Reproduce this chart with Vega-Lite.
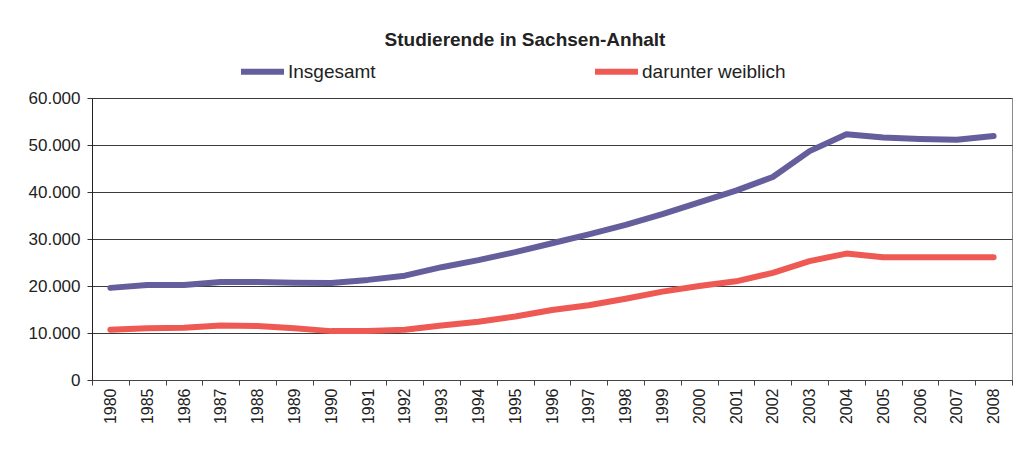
{
  "$schema": "https://vega.github.io/schema/vega-lite/v6.json",
  "width": 920,
  "height": 282,
  "autosize": {"type": "none"},
  "padding": {"left": 92, "top": 98, "right": 18, "bottom": 78},
  "background": "white",
  "title": {
    "text": "Studierende in Sachsen-Anhalt",
    "anchor": "middle",
    "frame": "group",
    "dx": -27,
    "offset": -18,
    "baseline": "alphabetic",
    "font": "Liberation Sans",
    "fontSize": 19,
    "fontWeight": "bold",
    "color": "#222222"
  },
  "config": {
    "locale": {"number": {"decimal": ",", "thousands": ".", "grouping": [3], "currency": ["", " €"]}},
    "view": {"stroke": "#8a8a8a", "strokeWidth": 1},
    "font": "Liberation Sans"
  },
  "data": {
    "values": [
      {"jahr": "1980", "reihe": "Insgesamt", "wert": 19600},
      {"jahr": "1985", "reihe": "Insgesamt", "wert": 20200},
      {"jahr": "1986", "reihe": "Insgesamt", "wert": 20200},
      {"jahr": "1987", "reihe": "Insgesamt", "wert": 20850},
      {"jahr": "1988", "reihe": "Insgesamt", "wert": 20850},
      {"jahr": "1989", "reihe": "Insgesamt", "wert": 20700},
      {"jahr": "1990", "reihe": "Insgesamt", "wert": 20650},
      {"jahr": "1991", "reihe": "Insgesamt", "wert": 21300},
      {"jahr": "1992", "reihe": "Insgesamt", "wert": 22200},
      {"jahr": "1993", "reihe": "Insgesamt", "wert": 24000},
      {"jahr": "1994", "reihe": "Insgesamt", "wert": 25500},
      {"jahr": "1995", "reihe": "Insgesamt", "wert": 27200},
      {"jahr": "1996", "reihe": "Insgesamt", "wert": 29100},
      {"jahr": "1997", "reihe": "Insgesamt", "wert": 31000},
      {"jahr": "1998", "reihe": "Insgesamt", "wert": 33000},
      {"jahr": "1999", "reihe": "Insgesamt", "wert": 35300},
      {"jahr": "2000", "reihe": "Insgesamt", "wert": 37800},
      {"jahr": "2001", "reihe": "Insgesamt", "wert": 40300},
      {"jahr": "2002", "reihe": "Insgesamt", "wert": 43200},
      {"jahr": "2003", "reihe": "Insgesamt", "wert": 48700},
      {"jahr": "2004", "reihe": "Insgesamt", "wert": 52300},
      {"jahr": "2005", "reihe": "Insgesamt", "wert": 51600},
      {"jahr": "2006", "reihe": "Insgesamt", "wert": 51300},
      {"jahr": "2007", "reihe": "Insgesamt", "wert": 51100},
      {"jahr": "2008", "reihe": "Insgesamt", "wert": 51900},
      {"jahr": "1980", "reihe": "darunter weiblich", "wert": 10700},
      {"jahr": "1985", "reihe": "darunter weiblich", "wert": 11000},
      {"jahr": "1986", "reihe": "darunter weiblich", "wert": 11100},
      {"jahr": "1987", "reihe": "darunter weiblich", "wert": 11600},
      {"jahr": "1988", "reihe": "darunter weiblich", "wert": 11500},
      {"jahr": "1989", "reihe": "darunter weiblich", "wert": 11000},
      {"jahr": "1990", "reihe": "darunter weiblich", "wert": 10400},
      {"jahr": "1991", "reihe": "darunter weiblich", "wert": 10400},
      {"jahr": "1992", "reihe": "darunter weiblich", "wert": 10700},
      {"jahr": "1993", "reihe": "darunter weiblich", "wert": 11600},
      {"jahr": "1994", "reihe": "darunter weiblich", "wert": 12400},
      {"jahr": "1995", "reihe": "darunter weiblich", "wert": 13500},
      {"jahr": "1996", "reihe": "darunter weiblich", "wert": 14900},
      {"jahr": "1997", "reihe": "darunter weiblich", "wert": 15900},
      {"jahr": "1998", "reihe": "darunter weiblich", "wert": 17300},
      {"jahr": "1999", "reihe": "darunter weiblich", "wert": 18800},
      {"jahr": "2000", "reihe": "darunter weiblich", "wert": 20000},
      {"jahr": "2001", "reihe": "darunter weiblich", "wert": 21000},
      {"jahr": "2002", "reihe": "darunter weiblich", "wert": 22800},
      {"jahr": "2003", "reihe": "darunter weiblich", "wert": 25300},
      {"jahr": "2004", "reihe": "darunter weiblich", "wert": 26900},
      {"jahr": "2005", "reihe": "darunter weiblich", "wert": 26100},
      {"jahr": "2006", "reihe": "darunter weiblich", "wert": 26100},
      {"jahr": "2007", "reihe": "darunter weiblich", "wert": 26100},
      {"jahr": "2008", "reihe": "darunter weiblich", "wert": 26100}
    ]
  },
  "mark": {"type": "line", "strokeWidth": 6, "strokeCap": "round", "strokeJoin": "round"},
  "encoding": {
    "x": {
      "field": "jahr",
      "type": "ordinal",
      "bandPosition": 0.5,
      "scale": {"type": "band", "paddingInner": 0, "paddingOuter": 0},
      "axis": {
        "title": null,
        "labelAngle": -90,
        "labelFont": "Liberation Sans",
        "labelFontSize": 16,
        "labelColor": "#222222",
        "labelPadding": 3,
        "tickBand": "extent",
        "tickSize": 5,
        "tickColor": "#444444",
        "domainColor": "#444444",
        "grid": false
      }
    },
    "y": {
      "field": "wert",
      "type": "quantitative",
      "scale": {"domain": [0, 60000], "nice": false},
      "axis": {
        "title": null,
        "values": [0, 10000, 20000, 30000, 40000, 50000, 60000],
        "format": ",.0f",
        "labelFont": "Liberation Sans",
        "labelFontSize": 17,
        "labelColor": "#222222",
        "labelPadding": 7,
        "tickSize": 5,
        "tickColor": "#333333",
        "domainColor": "#222222",
        "grid": true,
        "gridColor": "#3a3a3a",
        "gridWidth": 1
      }
    },
    "color": {
      "field": "reihe",
      "type": "nominal",
      "sort": ["Insgesamt", "darunter weiblich"],
      "scale": {"domain": ["Insgesamt", "darunter weiblich"], "range": ["#655e9c", "#ee5a53"]},
      "legend": {
        "title": null,
        "orient": "none",
        "legendX": 146,
        "legendY": -51,
        "direction": "horizontal",
        "columns": 2,
        "columnPadding": 207,
        "padding": 0,
        "symbolType": "stroke",
        "symbolSize": 1849,
        "symbolStrokeWidth": 6,
        "labelOffset": 1,
        "labelFont": "Liberation Sans",
        "labelFontSize": 19,
        "labelColor": "#222222"
      }
    }
  }
}
